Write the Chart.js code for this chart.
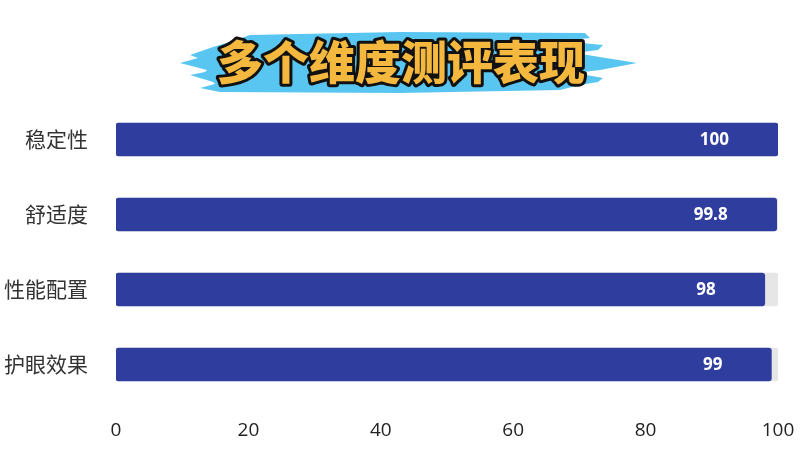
<!DOCTYPE html>
<html>
<head>
<meta charset="utf-8">
<script src="https://cdn.jsdelivr.net/npm/chart.js@4"></script>
<style>
  html,body{margin:0;padding:0;background:#fff;}
  #wrap{position:relative;width:800px;height:450px;}
  #title{position:absolute;left:0;top:0;width:800px;height:110px;pointer-events:none;}
  canvas{position:absolute;left:0;top:0;}
</style>
</head>
<body>
<div id="wrap">
  <canvas id="c" width="800" height="450"></canvas>
  <svg id="title" width="800" height="110" viewBox="0 0 800 110">
    <polygon fill="#58c6f1" points="250,35 400,32 585,33 590,38 560,41 603,45 598,50 575,53 637,63 600,70 575,73 603,78 598,82 580,85 560,90 400,93 220,92 200,88 215,84 213,82 190,75 205,72 207,70 180,63 198,58 190,55 213,47 230,42"/>
    <text x="401" y="79" text-anchor="middle" font-family="Noto Sans CJK SC" font-weight="900" font-size="46" fill="#f4b83f" stroke="#111" stroke-width="6" stroke-linejoin="round" paint-order="stroke">多个维度测评表现</text>
  </svg>
</div>
<script>
const categories = ['稳定性', '舒适度', '性能配置', '护眼效果'];
const scores = [100, 99.8, 98, 99];
const trackValues = [100, 100, 100, 100];
const xTicks = [0, 20, 40, 60, 80, 100];

const labelPlugin = {
  id: 'valueLabels',
  afterDatasetsDraw(chart) {
    const ctx = chart.ctx;
    const meta = chart.getDatasetMeta(0);
    ctx.save();
    ctx.fillStyle = '#ffffff';
    ctx.font = 'bold 17px "Open Sans", "Noto Sans CJK SC", sans-serif';
    ctx.textAlign = 'right';
    ctx.textBaseline = 'middle';
    meta.data.forEach((bar, i) => {
      ctx.fillText(String(scores[i]), bar.x - 49, bar.y + 1);
    });
    ctx.restore();
  }
};

new Chart(document.getElementById('c'), {
  type: 'bar',
  data: {
    labels: categories,
    datasets: [
      {
        data: scores,
        backgroundColor: '#2f3e9e',
        borderRadius: 3,
        borderSkipped: false,
        barThickness: 33,
        grouped: false
      },
      {
        data: trackValues,
        backgroundColor: '#e6e6e6',
        borderRadius: 3,
        borderSkipped: false,
        barThickness: 33,
        grouped: false
      }
    ]
  },
  options: {
    indexAxis: 'y',
    responsive: false,
    animation: false,
    devicePixelRatio: 1,
    layout: { padding: { left: 0, right: 22, top: 102, bottom: 0 } },
    plugins: { legend: { display: false }, tooltip: { enabled: false }, title: { display: false } },
    scales: {
      x: {
        min: 0, max: 100,
        afterBuildTicks(s) { s.ticks = xTicks.map(v => ({ value: v })); },
        afterFit(s) { s.height = 48; s.paddingLeft = 0; s.paddingRight = 0; },
        grid: { display: false, drawTicks: false },
        border: { display: false },
        ticks: { padding: 17, color: '#222', font: { family: '"Open Sans", "Noto Sans CJK SC", sans-serif', size: 19 } }
      },
      y: {
        afterFit(s) { s.width = 116; s.paddingTop = 0; s.paddingBottom = 0; },
        grid: { display: false, drawTicks: false },
        border: { display: false },
        ticks: { padding: 28, color: '#333', font: { family: '"Noto Sans CJK SC", sans-serif', size: 21 } }
      }
    }
  },
  plugins: [labelPlugin]
});
</script>
</body>
</html>
